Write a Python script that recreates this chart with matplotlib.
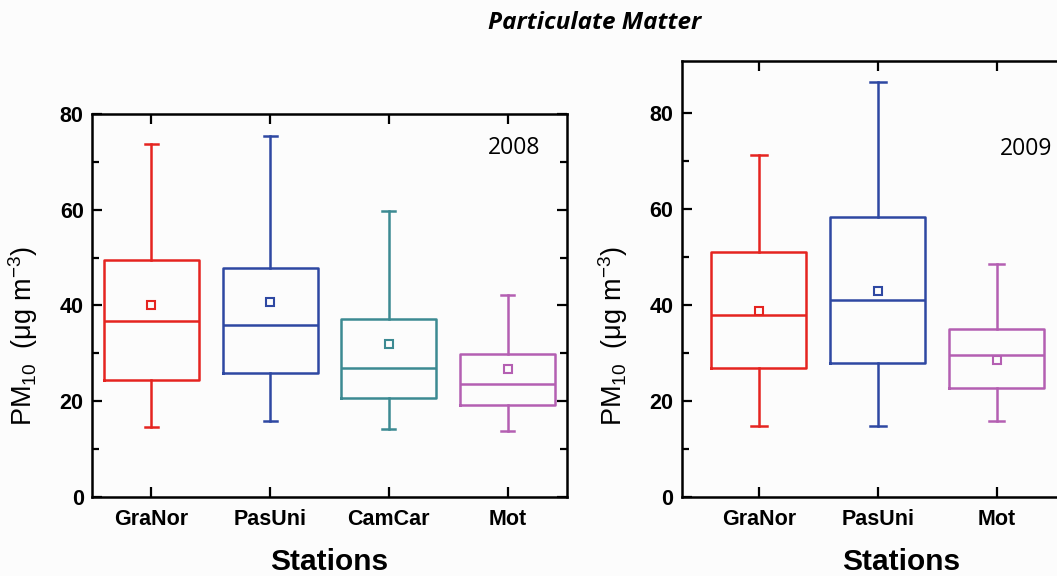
import numpy as np
import matplotlib
matplotlib.use("Agg")
import matplotlib.pyplot as plt

# Box statistics (PM10, ug m-3)
stations_2008 = ["GraNor", "PasUni", "CamCar", "Mot"]
whislo_2008 = [14.6, 15.9, 14.1, 13.7]
q1_2008 = [24.4, 25.9, 20.6, 19.3]
med_2008 = [36.8, 35.9, 27.0, 23.6]
q3_2008 = [49.6, 47.8, 37.2, 29.9]
whishi_2008 = [73.8, 75.3, 59.8, 42.2]
mean_2008 = [40.1, 40.8, 32.0, 26.8]
colors_2008 = ["#e52420", "#2e48a2", "#3c8a92", "#b45fb2"]

stations_2009 = ["GraNor", "PasUni", "Mot"]
whislo_2009 = [14.8, 14.9, 15.8]
q1_2009 = [26.8, 28.0, 22.8]
med_2009 = [37.9, 41.0, 29.6]
q3_2009 = [51.0, 58.3, 35.0]
whishi_2009 = [71.3, 86.6, 48.6]
mean_2009 = [38.8, 43.0, 28.6]
colors_2009 = ["#e52420", "#2e48a2", "#b45fb2"]

plt.rcParams["font.family"] = ["Liberation Sans", "DejaVu Sans"]
plt.rcParams["mathtext.fontset"] = "custom"
plt.rcParams["mathtext.rm"] = "Liberation Sans"
plt.rcParams["mathtext.it"] = "Liberation Sans:italic"
plt.rcParams["mathtext.bf"] = "Liberation Sans:bold"

BG = "#fcfcfc"
fig = plt.figure(figsize=(10.57, 5.76), dpi=100, facecolor=BG)
ax1 = fig.add_axes([0.0870, 0.1372, 0.4494, 0.6649], facecolor=BG)
ax2 = fig.add_axes([0.6449, 0.1372, 0.3711, 0.7569], facecolor=BG)


def make_stats(names, lo, q1, med, q3, hi, mean):
    out = []
    for i in range(len(names)):
        out.append(dict(label=names[i], whislo=lo[i], q1=q1[i], med=med[i],
                        q3=q3[i], whishi=hi[i], mean=mean[i], fliers=[]))
    return out


def draw(ax, stats, colors, capw):
    pos = np.arange(1, len(stats) + 1)
    bp = ax.bxp(stats, positions=pos, widths=0.8, capwidths=capw,
                showmeans=True, showfliers=False, manage_ticks=False)
    for i, c in enumerate(colors):
        bp["boxes"][i].set(color=c, linewidth=1.8)
        bp["medians"][i].set(color=c, linewidth=1.8)
        for w in bp["whiskers"][2 * i:2 * i + 2]:
            w.set(color=c, linewidth=1.8)
        for cp in bp["caps"][2 * i:2 * i + 2]:
            cp.set(color=c, linewidth=1.8)
        bp["means"][i].set(marker="s", markersize=6, markerfacecolor="none",
                           markeredgecolor=c, markeredgewidth=1.5)
    ax.set_xticks(pos)
    ax.set_xticklabels([s["label"] for s in stats])


draw(ax1, make_stats(stations_2008, whislo_2008, q1_2008, med_2008, q3_2008,
                     whishi_2008, mean_2008), colors_2008, 0.11)
draw(ax2, make_stats(stations_2009, whislo_2009, q1_2009, med_2009, q3_2009,
                     whishi_2009, mean_2009), colors_2009, 0.13)

ax1.set_xlim(0.5, 4.5)
ax1.set_ylim(0, 80)
ax2.set_xlim(0.35, 3.65)
ax2.set_ylim(0, 90.9)

ylab = "PM$_{10}$  (μg m$^{-3}$)"
for ax in (ax1, ax2):
    ax.set_yticks([0, 20, 40, 60, 80])
    ax.set_yticks([10, 30, 50, 70], minor=True)
    ax.tick_params(which="both", direction="in", top=True, right=True,
                   width=1.6, colors="black")
    ax.tick_params(which="major", length=7)
    ax.tick_params(which="minor", length=5, top=False, bottom=False)
    ax.tick_params(axis="y", pad=6)
    ax.tick_params(axis="x", pad=9)
    for lab in ax.get_xticklabels() + ax.get_yticklabels():
        lab.set_fontweight("bold")
        lab.set_fontsize(15.5)
    for sp in ax.spines.values():
        sp.set_linewidth(1.8)
    ax.set_ylabel(ylab, fontsize=19.5)
    ax.set_xlabel("Stations", fontsize=21.5, fontweight="heavy")

ax1.yaxis.set_label_coords(-0.109, 0.42)
ax2.yaxis.set_label_coords(-0.132, 0.37)
ax1.xaxis.set_label_coords(0.5, -0.133)
ax2.xaxis.set_label_coords(0.559, -0.117)

ax1.text(0.888, 0.911, "2008", transform=ax1.transAxes, fontsize=16.5,
         ha="center", va="center", family=["Open Sans", "Liberation Sans"])
ax2.text(0.878, 0.799, "2009", transform=ax2.transAxes, fontsize=16.5,
         ha="center", va="center", family=["Open Sans", "Liberation Sans"])

fig.text(0.5625, 1 - 23 / 576, "Particulate Matter", fontsize=17.5,
         fontweight="bold", fontstyle="italic", ha="center", va="center",
         family=["Open Sans", "Liberation Sans"])

fig.savefig("out.png", dpi=100, facecolor=BG)
